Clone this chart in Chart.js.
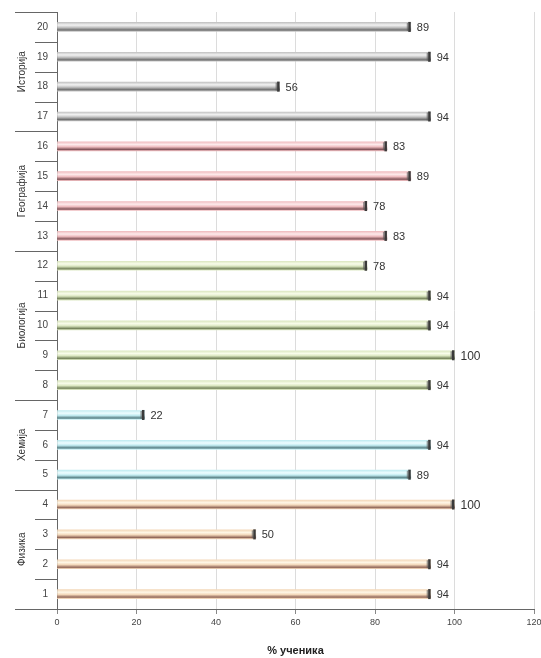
<!DOCTYPE html>
<html><head><meta charset="utf-8">
<script src="https://cdn.jsdelivr.net/npm/chart.js@4/dist/chart.umd.min.js"></script>
<style>html,body{margin:0;padding:0;background:#fff}#wrap{width:541px;height:658px}</style>
</head><body><div id="wrap"><canvas id="c"></canvas></div>
<script>
const categories = ['1','2','3','4','5','6','7','8','9','10','11','12','13','14','15','16','17','18','19','20'];
const values = [94,94,50,100,89,94,22,94,100,94,94,78,83,78,89,83,94,56,94,89];
const groupNames = ['Физика','Хемија','Биологија','Географија','Историја'];
const groupStart = [0,4,7,12,16];
const groupEnd = [3,6,11,15,19];
const xTicks = [0,20,40,60,80,100,120];
const axisTitle = '% ученика';

const palette = [
  ['#f3d8ba','#fff7e6','#93695a'],
  ['#c2ecf1','#eefdff','#577f84'],
  ['#dce8c2','#f8fcea','#76845c'],
  ['#f0bec1','#fdeaeb','#83555a'],
  ['#c4c4c4','#f2f2f2','#6e6e6e']
];
function groupOf(i){ for(let g=0; g<groupStart.length; g++){ if(i>=groupStart[g] && i<=groupEnd[g]) return g; } return 0; }

const FONT = '"Liberation Sans", Arial, sans-serif';

function barFill(context){
  const chart = context.chart;
  const i = context.dataIndex;
  const y = chart.scales && chart.scales.y;
  if(i===undefined) return palette[0][0];
  const p = palette[groupOf(i)];
  if(!y) return p[0];
  const cy = y.getPixelForValue(i);
  if(!isFinite(cy)) return p[0];
  const g = chart.ctx.createLinearGradient(0, cy-4.5, 0, cy+4.5);
  g.addColorStop(0, p[0]);
  g.addColorStop(0.3, p[1]);
  g.addColorStop(0.55, p[0]);
  g.addColorStop(0.85, p[2]);
  g.addColorStop(1, p[0]);
  return g;
}

const decor = {
  id:'decor',
  afterDatasetsDraw(chart){
    const ctx = chart.ctx, y = chart.scales.y, area = chart.chartArea;
    const meta = chart.getDatasetMeta(0);
    ctx.save();
    meta.data.forEach((el,i)=>{
      ctx.fillStyle = '#3a3a3a';
      ctx.fillRect(el.x-2.5, el.y-5, 2.5, 10);
      ctx.fillStyle = 'rgba(90,90,90,0.6)';
      ctx.fillRect(el.x-4, el.y-4, 1.5, 8);
      ctx.fillStyle = '#333';
      ctx.font = (values[i]>=100 ? '12px ' : '11px ') + FONT;
      ctx.textBaseline = 'middle';
      ctx.textAlign = 'left';
      ctx.fillText(String(values[i]), el.x+6, el.y+1);
    });
    ctx.strokeStyle = '#666';
    ctx.lineWidth = 1;
    const half = (y.getPixelForValue(0)-y.getPixelForValue(1))/2;
    for(let i=0;i<categories.length;i++){
      const b = Math.round(y.getPixelForValue(i)-half)+0.5;
      const isGroup = groupEnd.includes(i);
      ctx.beginPath();
      ctx.moveTo(isGroup ? 15 : 35, b);
      ctx.lineTo(area.left, b);
      ctx.stroke();
    }
    ctx.fillStyle = '#333';
    ctx.font = '10px ' + FONT;
    ctx.textAlign = 'center';
    ctx.textBaseline = 'middle';
    groupNames.forEach((n,g)=>{
      const cy = (y.getPixelForValue(groupStart[g]) + y.getPixelForValue(groupEnd[g]))/2;
      ctx.save();
      ctx.translate(22, cy);
      ctx.rotate(-Math.PI/2);
      ctx.fillText(n, 0, 0);
      ctx.restore();
    });
    const bt = Math.round(area.bottom)+0.5;
    ctx.strokeStyle = '#666';
    ctx.beginPath(); ctx.moveTo(15, bt); ctx.lineTo(area.left, bt); ctx.stroke();
    ctx.restore();
  }
};

new Chart(document.getElementById('c'), {
  type:'bar',
  data:{ labels: categories, datasets:[{ data: values, backgroundColor: barFill, barThickness: 9, borderWidth:0 }]},
  options:{
    indexAxis:'y',
    responsive:true, maintainAspectRatio:false, animation:false,
    layout:{ padding:{ top:12, right:7, left:0, bottom:0 } },
    plugins:{ legend:{display:false}, tooltip:{enabled:false} },
    scales:{
      x:{
        min:0, max:120,
        afterBuildTicks: s => { s.ticks = xTicks.map(v=>({value:v})); },
        afterFit: s => { s.paddingRight = 0; s.paddingLeft = 0; },
        grid:{ color:'#dcdcdc', tickColor:'#888', tickLength:5 },
        border:{ color:'#666' },
        ticks:{ font:{ size:9, family:FONT }, color:'#444', padding:3 },
        title:{ display:true, text:axisTitle, font:{ size:11, weight:'bold', family:FONT }, color:'#222', padding:{ top:14, bottom:0 } }
      },
      y:{
        reverse:true,
        afterFit: s => { s.width = 57; s.paddingTop = 0; s.paddingBottom = 0; },
        grid:{ display:false, drawTicks:false },
        border:{ color:'#666' },
        ticks:{ font:{ size:10, family:FONT }, color:'#444', padding:9 }
      }
    }
  },
  plugins:[decor]
});
</script></body></html>
